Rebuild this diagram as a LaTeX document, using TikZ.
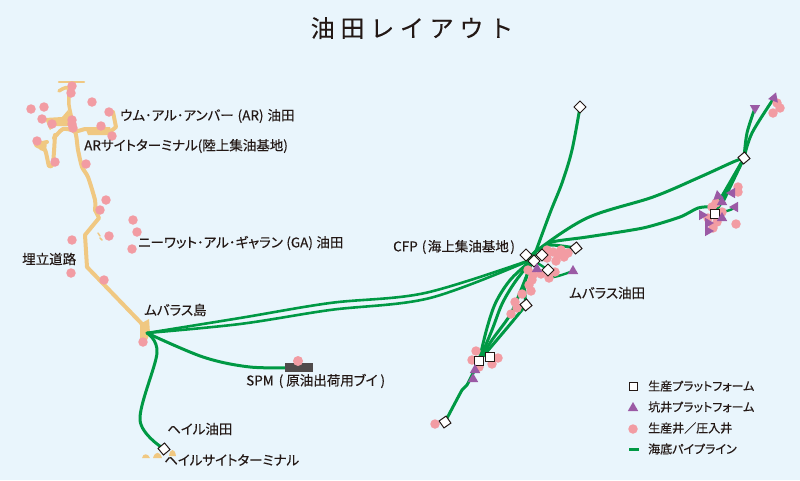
\documentclass[tikz,border=0pt]{standalone}
\usepackage{fontspec}
\usetikzlibrary{shapes.geometric}
\setmainfont[FakeBold=0.3,RawFeature={+palt}]{Noto Sans CJK JP}
\newfontfamily\titlefont[LetterSpace=24,FakeBold=0.2]{Noto Sans CJK JP}
\definecolor{bgc}{RGB}{233,245,252}
\definecolor{pipec}{RGB}{0,153,68}
\definecolor{landc}{RGB}{240,200,130}
\definecolor{wellc}{RGB}{242,156,163}
\definecolor{triac}{RGB}{155,90,165}
\definecolor{inkc}{RGB}{35,24,21}
\definecolor{spmc}{RGB}{80,75,75}
\pgfdeclarelayer{bgl}\pgfdeclarelayer{landl}\pgfdeclarelayer{pipel}\pgfdeclarelayer{welll}
\pgfsetlayers{bgl,landl,pipel,welll,main}
\tikzset{
  plat/.style={draw=inkc,fill=white,line width=1pt,minimum size=8.5pt,inner sep=0pt},
  tria/.style={regular polygon,regular polygon sides=3,fill=triac,minimum size=12pt,inner sep=0pt},
  wellp/.style={circle,fill=wellc,minimum size=9.5pt,inner sep=0pt},
  pipeline/.style={draw=pipec,line width=3pt,line cap=round,line join=round},
  road/.style={draw=landc,line width=4pt,line cap=round,line join=round},
  lab/.style={anchor=west,inner sep=0pt,text=inkc,font=\fontsize{13.5}{15}\selectfont},
  leg/.style={anchor=west,inner sep=0pt,text=inkc,font=\fontsize{12}{13}\selectfont},
  curve/.style={smooth,tension=0.55}
}
\begin{document}
\begin{tikzpicture}[x=1pt,y=-1pt]
\useasboundingbox (0,0) rectangle (800,480);
\begin{pgfonlayer}{bgl}
\fill[bgc] (0,0) rectangle (800,480);
\end{pgfonlayer}
% platforms
\foreach \n/\x/\y/\r in {pn/580/107/45,pa/526/255/45,pb/534/261/45,pc/542/255/45,pd/548/270/45,pe/576/248/40,pf/526/305/40,pg/479/361/0,ph/490/357/0,pi/445/422/35,pj/744/158/40,pk/715/214/0,pl/164/449/40}
  \node[plat,rotate=\r] (\n) at (\x,\y) {};
\coordinate (hub) at (533,259);
\coordinate (hubn) at (535,252);
\coordinate (isl) at (147,333);
% SPM
\node[fill=spmc,minimum width=28pt,minimum height=9pt,inner sep=0pt] (spm) at (299,367.5) {};
\begin{pgfonlayer}{welll}
\foreach \x/\y [count=\i] in {72/86,71/93,92/102,31/109,44/107,42/119,52/124,72/120,72/124,73/128,109/112,101/126,112/136,37/141,55/162,86/164,106/200,100/210,133/220,137/232,109/236,132/249,72/240,71/273,104/280,143/342,
 547/250,553/252,561/250,558/255,568/253,564/257,556/261,547/258,555/272,541/274,549/278,533/275,532/280,529/285,531/291,522/294,515/302,517/308,511/314,528/270,
 476/351,472/360,498/358,492/364,479/367,435/424,
 777/103,780/108,773/113,738/187,738/192,716/203,712/207,722/212,708/218,717/222,713/228,736/224}
  \node[wellp] (w\i) at (\x,\y) {};
\end{pgfonlayer}
\node[wellp,minimum size=10pt] (wspm) at (298,361) {};
% triangles
\foreach \x/\y/\r [count=\i] in {537/269/0,573/271/0,475/370/0,473/379/0,774/98/-20,755/108/60,718/196/10,732/193/90,722/202/0,702/215/30,735/207/-30,722/218/0,708/223/30,708/231/30}
  \node[tria,rotate=\r] (t\i) at (\x,\y) {};
% land
\begin{pgfonlayer}{landl}
\draw[road,line width=2.5pt] (59,82) -- (84,82);
\draw[road,line width=3.5pt] plot[curve] coordinates {(59,91) (68,88) (69,105) (72,120) (72,128)};
\fill[landc] (45,118) -- (62,117) -- (68,110) -- (72,120) -- (71,126) -- (55,126) -- (50,130) -- (48,126) -- cycle;
\draw[road] plot[curve,tension=.4] coordinates {(54,138) (63,129) (75,132) (78,150) (82,167) (88,177) (95,200) (95,210)};
\draw[road] (95,210) -- (99,218) -- (85,235) -- (87,267) -- (143,325);
\draw[road] plot[curve,tension=.4] coordinates {(55,135) (53,163) (49,166) (45,150) (36,145) (47,142)};
\fill[landc] (36,144) -- (47,141) -- (46,152) -- (40,150) -- cycle;
\draw[road] (78,131) -- (85,129) -- (110,132);
\fill[landc] (85,127) -- (110,127) -- (113,135) -- (88,135) -- cycle;
\draw[road] (113,112) -- (116,127) -- (110,132);
\fill[landc] (140,324) -- (149,319) -- (150,333) -- (147,340) -- (140,340) -- cycle;
\draw[road,line width=1.5pt] (98,233) -- (100,236) (100,238) -- (102,240);
\fill[landc] (142,458) .. controls (143,453) and (148,453) .. (150,458) -- cycle;
\fill[landc] (153,458) .. controls (155,451) and (160,451) .. (162,458) -- cycle;
\fill[landc] (169,456) .. controls (170,448) and (175,448) .. (176,456) -- cycle;
\end{pgfonlayer}
% pipelines
\begin{pgfonlayer}{pipel}
\draw[pipeline,line width=2.6pt] plot[curve] coordinates {(isl) (240,318) (330,303) (425,293) (hub)};
\draw[pipeline,line width=2.6pt] plot[curve] coordinates {(isl) (240,324) (330,310) (430,298) (hub)};
\draw[pipeline] plot[curve] coordinates {(isl) (203,357) (250,367) (spm)};
\draw[pipeline] plot[curve] coordinates {(isl) (157,353) (140,420) (pl)};
\draw[pipeline] plot[curve] coordinates {(pn) (572,150) (562,183) (550,213) (hub)};
\draw[pipeline] plot[curve] coordinates {(hub) (hubn) (587,218) (653,197) (700,177) (733,162) (pj)};
\draw[pipeline] plot[curve,tension=.4] coordinates {(hub) (hubn) (552,242) (587,237) (643,228) (680,217) (698,208) (712,207) (pk)};
\draw[pipeline] plot[curve,tension=.4] coordinates {(hub) (hubn) (550,245) (pe)};
\draw[pipeline] (hub) -- (pa);
\draw[pipeline] plot[curve] coordinates {(hub) (511,279) (496,302) (487,328) (pg)};
\draw[pipeline] plot[curve] coordinates {(hub) (515,282) (502,304) (492,330) (pg)};
\draw[pipeline] plot[curve] coordinates {(hub) (525,283) (pf)};
\draw[pipeline] plot[curve] coordinates {(pf) (507,328) (pg)};
\draw[pipeline] plot[curve] coordinates {(hub) (521,290) (510,315) (492,340) (pg)};
\draw[pipeline] plot[curve,tension=.3] coordinates {(pg) (467,385) (462,390) (pi)};
\draw[pipeline] (pj) -- (pk);
\draw[pipeline] (pj) -- (722,204);
\draw[pipeline] (pj) -- (718,203);
\draw[pipeline] plot[curve] coordinates {(pj) (747,133) (t6)};
\draw[pipeline] plot[curve] coordinates {(pj) (752,133) (t5)};
\draw[pipeline,line width=2.4pt] plot[curve] coordinates {(pk) (730,210) (t11)};
\draw[pipeline,line width=2.4pt] plot[curve] coordinates {(pb) (pd) (553,277) (t2)};
\end{pgfonlayer}
% labels
\node[inner sep=0pt,text=inkc,font=\titlefont\fontsize{24}{28}\selectfont] (title) at (412,28) {油田レイアウト};
\node[lab] (l1) at (120,116) {ウム･アル･アンバー\hspace{4pt}(AR)\hspace{4pt}油田};
\node[lab] (l2) at (84,146) {ARサイトターミナル(陸上集油基地)};
\node[lab] (l3) at (138,243) {ニーワット･アル･ギャラン\hspace{3.5pt}(GA)\hspace{3.5pt}油田};
\node[lab] (l4) at (22,259) {埋立道路};
\node[lab] (l5) at (144,310) {ムバラス島};
\node[lab] (l6) at (246,381) {SPM\hspace{5pt}(\hspace{3pt}原油出荷用ブイ\hspace{3pt})};
\node[lab] (l7) at (167,429) {ヘイル油田};
\node[lab] (l8) at (164,460) {ヘイルサイトターミナル};
\node[lab] (l9) at (393,247) {CFP\hspace{4pt}(\hspace{1.5pt}海上集油基地\hspace{1.5pt})};
\node[lab] (l10) at (569,293) {ムバラス油田};
% legend
\node[plat,minimum size=8pt] (k1) at (633,386) {};
\node[tria] (k2) at (633,408) {};
\node[wellp] (k3) at (633,429) {};
\coordinate (k4a) at (629,449);
\coordinate (k4b) at (639,449);
\draw[pipeline,line cap=butt] (k4a) -- (k4b);
\node[leg] (g1) at (648,386) {生産プラットフォーム};
\node[leg] (g2) at (648,407) {坑井プラットフォーム};
\node[leg] (g3) at (648,428) {生産井／圧入井};
\node[leg] (g4) at (648,449) {海底パイプライン};
\end{tikzpicture}
\end{document}
